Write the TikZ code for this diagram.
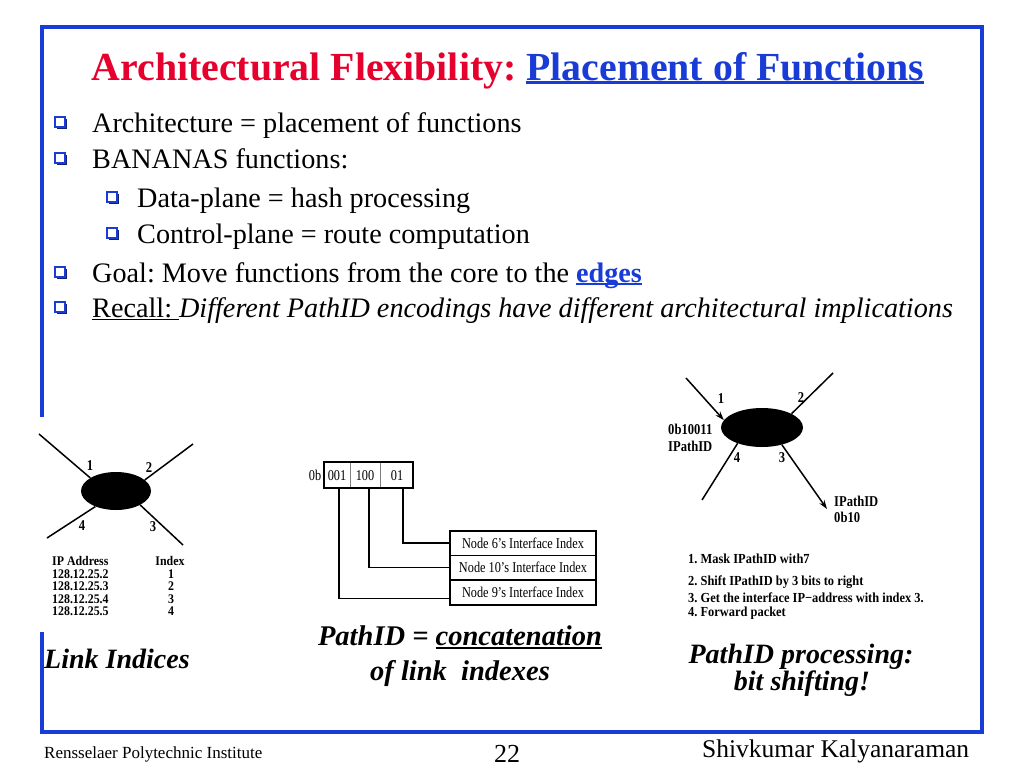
\documentclass[tikz,border=0pt]{standalone}
\usepackage{fontspec}
\setmainfont{Liberation Serif}
\newfontfamily\condf[FakeStretch=0.82]{Liberation Serif}
\newfontfamily\condb[FakeStretch=0.84]{Liberation Serif}
\newfontfamily\condc[FakeStretch=0.9]{Liberation Serif}
\usetikzlibrary{shapes.geometric,arrows.meta}
\definecolor{tred}{RGB}{230,0,45}
\definecolor{tblue}{RGB}{25,60,215}
\definecolor{bshadow}{RGB}{20,30,120}
\newcommand\myul[3]{\setbox0\hbox{#3}\rlap{\rule[-#1]{\wd0}{#2}}\box0}
\begin{document}
\frenchspacing
\begin{tikzpicture}[x=1pt,y=-1pt,
  txt/.style={inner sep=0pt,anchor=base west},
  body/.style={txt,font=\fontsize{28.2}{34}\selectfont},
  capt/.style={inner sep=0pt,anchor=base,font=\fontsize{28.5}{34}\selectfont\bfseries\itshape},
  small/.style={inner sep=0pt,anchor=base west,font=\fontsize{13.2}{15}\condc\bfseries},
  lbl/.style={inner sep=0pt,font=\fontsize{15}{17}\condb\bfseries},
  steptext/.style={inner sep=0pt,anchor=west,font=\fontsize{13.8}{16}\condc\bfseries},
  idx/.style={draw,line width=1.5pt,minimum width=146pt,minimum height=24.5pt,inner sep=0pt,font=\fontsize{15}{17}\condf},
  wire/.style={line width=1.5pt},
  blob/.style={ellipse,fill=black,inner sep=0pt},
  arr/.style={wire,-{Stealth[length=9pt,width=6pt]}},
  frame/.style={draw=tblue,line width=3.5pt}]
\useasboundingbox (0,0) rectangle (1024,768);
\fill[white] (0,0) rectangle (1024,768);
% frame
\draw[frame] (42,417) -- (42,27) -- (982,27) -- (982,732) -- (42,732) -- (42,632);
% title
\node[inner sep=0pt,anchor=base,font=\fontsize{39.8}{48}\selectfont\bfseries] (title) at (508,80)
  {\textcolor{tred}{Architectural Flexibility:} \textcolor{tblue}{\myul{4pt}{3pt}{Placement of Functions}}};
% bullets
\foreach \bx/\by in {55/117,55/153,107/192,107/228,55/267,55/302}{
  \fill[bshadow] (\bx+1.8,\by+1.8) rectangle ++(10,10);
  \filldraw[fill=white,draw=tblue,line width=1.6pt] (\bx,\by) rectangle ++(10,10);
}
\node[body] (b1) at (92,132) {Architecture = placement of functions};
\node[body] (b2) at (92,168) {BANANAS functions:};
\node[body] (b3) at (137,207) {Data-plane = hash processing};
\node[body] (b4) at (137,243) {Control-plane = route computation};
\node[body] (b5) at (92,282) {Goal: Move functions from the core to the \textcolor{tblue}{\bfseries\myul{3pt}{2pt}{edges}}};
\node[body] (b6) at (92,317) {\myul{3pt}{1.5pt}{Recall: }\textit{Different PathID encodings have different architectural implications}};
% ---------- left diagram
\node[blob,minimum width=70pt,minimum height=38pt] (e1) at (116,491) {};
\coordinate (a1) at (39,434);
\coordinate (a2) at (193,444);
\coordinate (a3) at (183,545);
\coordinate (a4) at (47,538);
\draw[wire] (a1) -- (e1.153);
\draw[wire] (a2) -- (e1.21);
\draw[wire] (a3) -- (e1.330);
\draw[wire] (a4) -- (e1.217);
\node[lbl] (k1) at (90,466) {1};
\node[lbl] (k2) at (149,468) {2};
\node[lbl] (k3) at (153,527) {3};
\node[lbl] (k4) at (82,526) {4};
\node[small] (th1) at (52,565) {IP Address};
\node[small,anchor=base] (th2) at (170,565) {Index};
\node[small] (r1) at (52,578) {128.12.25.2};
\node[small] (r2) at (52,590.5) {128.12.25.3};
\node[small] (r3) at (52,603) {128.12.25.4};
\node[small] (r4) at (52,615.5) {128.12.25.5};
\node[small,anchor=base] (i1) at (171,578) {1};
\node[small,anchor=base] (i2) at (171,590.5) {2};
\node[small,anchor=base] (i3) at (171,603) {3};
\node[small,anchor=base] (i4) at (171,615.5) {4};
\node[txt,font=\fontsize{28}{34}\selectfont\bfseries\itshape] (li) at (44,668) {Link Indices};
% ---------- middle diagram
\node[draw,line width=1.5pt,minimum width=89pt,minimum height=26pt,inner sep=0pt] (pid) at (368.5,475) {};
\draw[gray,line width=0.8pt] (350,463) -- (350,487);
\draw[gray,line width=0.8pt] (380,463) -- (380,487);
\node[inner sep=0pt,anchor=base,font=\fontsize{15}{17}\condf] (ob) at (315,480) {0b};
\node[inner sep=0pt,anchor=base,font=\fontsize{15}{17}\condf] (p1) at (337,480) {001};
\node[inner sep=0pt,anchor=base,font=\fontsize{15}{17}\condf] (p2) at (365,480) {100};
\node[inner sep=0pt,anchor=base,font=\fontsize{15}{17}\condf] (p3) at (397,480) {01};
\node[idx] (n6) at (523,543) {Node 6’s Interface Index};
\node[idx] (n10) at (523,567.5) {Node 10’s Interface Index};
\node[idx] (n9) at (523,592.5) {Node 9’s Interface Index};
\coordinate (c1) at (339,488);
\coordinate (c2) at (369,488);
\coordinate (c3) at (403,488);
\draw[wire] (c1) |- ([yshift=-6pt]n9.west);
\draw[wire] (c2) |- (n10.west);
\draw[wire] (c3) |- (n6.west);
\node[capt] (pc1) at (460,645) {PathID = \myul{4pt}{2pt}{concatenation}};
\node[capt] (pc2) at (460,680) {of link\ \ indexes};
% ---------- right diagram
\node[blob,minimum width=82pt,minimum height=39pt] (e2) at (762,427.5) {};
\coordinate (d1) at (686,378);
\coordinate (d2) at (833,373);
\coordinate (d3) at (827,509);
\coordinate (d4) at (702,500);
\draw[arr] (d1) -- (e2.169);
\draw[wire] (d2) -- (e2.25);
\draw[arr] (e2.319) -- (d3);
\draw[wire] (d4) -- (e2.213);
\node[lbl] (m1) at (721,399) {1};
\node[lbl] (m2) at (801,398) {2};
\node[lbl] (m3) at (782,458) {3};
\node[lbl] (m4) at (737,458) {4};
\node[lbl,anchor=west] (v1) at (668,429) {0b10011};
\node[lbl,anchor=west] (v2) at (668,446) {IPathID};
\node[lbl,anchor=west] (v3) at (834,501) {IPathID};
\node[lbl,anchor=west] (v4) at (834,517) {0b10};
\node[steptext] (s1) at (688,559) {1. Mask IPathID with7};
\node[steptext] (s2) at (688,582) {2. Shift IPathID by 3 bits to right};
\node[steptext] (s3) at (688,598) {3. Get the interface IP−address with index 3.};
\node[steptext] (s4) at (688,613) {4. Forward packet};
\node[capt,font=\fontsize{28}{34}\selectfont\bfseries\itshape] (pp1) at (801,663) {PathID processing:};
\node[capt,font=\fontsize{28}{34}\selectfont\bfseries\itshape] (pp2) at (802,690) {bit shifting!};
% ---------- footer
\node[txt,font=\fontsize{17}{20}\selectfont] (f1) at (44,758) {Rensselaer Polytechnic Institute};
\node[inner sep=0pt,anchor=base,font=\fontsize{26}{30}\selectfont] (f2) at (507,762) {22};
\node[txt,font=\fontsize{25.5}{30}\selectfont] (f3) at (702,757) {Shivkumar Kalyanaraman};
\end{tikzpicture}
\end{document}
